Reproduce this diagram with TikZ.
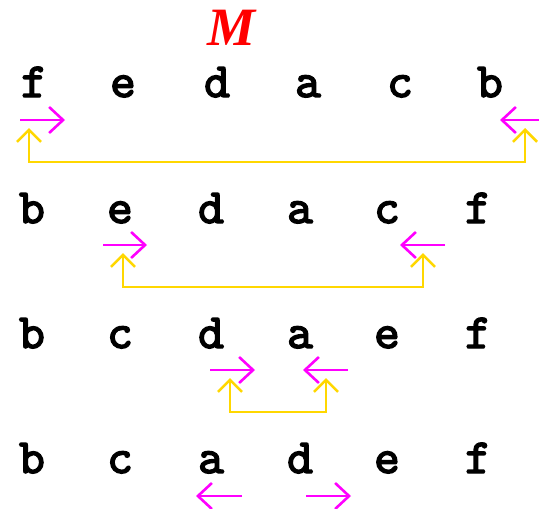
\documentclass[tikz,border=0pt]{standalone}
\usepackage{fontspec}
\usetikzlibrary{arrows.meta}
\definecolor{mag}{RGB}{255,0,255}
\definecolor{gold}{RGB}{255,215,0}
\newfontfamily\mfont{Liberation Serif}
\newfontfamily\courfont[FakeBold=3]{lmmono10-regular.otf}
\begin{document}
\begin{tikzpicture}[x=1pt,y=-1pt,
  letter/.style={anchor=base, inner sep=0pt, font=\fontsize{49}{49}\selectfont\courfont},
  ptr/.style={draw=mag, line width=2pt, -{Straight Barb[length=14pt,width=26pt,line width=2.6pt]}},
  swp/.style={draw=gold, line width=2pt, {Straight Barb[length=12pt,width=24pt,line width=2.6pt]}-{Straight Barb[length=12pt,width=24pt,line width=2.6pt]}},
  mlabel/.style={anchor=base, inner sep=0pt, text=red, font=\fontsize{54}{54}\selectfont\mfont\bfseries\itshape}]
\useasboundingbox[fill=white] (0,0) rectangle (539,509);
% title
\node[mlabel] (M) at (232,45) {M};
% row 1
\node[letter] (r1c1) at (34,97) {f};
\node[letter] (r1c2) at (123,97) {e};
\node[letter] (r1c3) at (217,97) {d};
\node[letter] (r1c4) at (308,97) {a};
\node[letter] (r1c5) at (400,97) {c};
\node[letter] (r1c6) at (490,97) {b};
% row 2
\node[letter] (r2c1) at (32,223) {b};
\node[letter] (r2c2) at (120,223) {e};
\node[letter] (r2c3) at (211,223) {d};
\node[letter] (r2c4) at (300,223) {a};
\node[letter] (r2c5) at (387,223) {c};
\node[letter] (r2c6) at (478,223) {f};
% row 3
\node[letter] (r3c1) at (32,348) {b};
\node[letter] (r3c2) at (120,348) {c};
\node[letter] (r3c3) at (211,348) {d};
\node[letter] (r3c4) at (300,348) {a};
\node[letter] (r3c5) at (387,348) {e};
\node[letter] (r3c6) at (478,348) {f};
% row 4
\node[letter] (r4c1) at (32,473) {b};
\node[letter] (r4c2) at (120,473) {c};
\node[letter] (r4c3) at (211,473) {a};
\node[letter] (r4c4) at (300,473) {d};
\node[letter] (r4c5) at (387,473) {e};
\node[letter] (r4c6) at (478,473) {f};
% pointer coordinates
\coordinate (p1a) at (20,120);  \coordinate (p1b) at (65,120);
\coordinate (q1a) at (539,120); \coordinate (q1b) at (500,120);
\coordinate (p2a) at (103,245); \coordinate (p2b) at (147,245);
\coordinate (q2a) at (445,245); \coordinate (q2b) at (400,245);
\coordinate (p3a) at (210,370); \coordinate (p3b) at (255,370);
\coordinate (q3a) at (348,370); \coordinate (q3b) at (303,370);
\coordinate (p4a) at (242,496); \coordinate (p4b) at (196,496);
\coordinate (q4a) at (306,496); \coordinate (q4b) at (351,496);
\draw[ptr] (p1a) -- (p1b);
\draw[ptr] (q1a) -- (q1b);
\draw[ptr] (p2a) -- (p2b);
\draw[ptr] (q2a) -- (q2b);
\draw[ptr] (p3a) -- (p3b);
\draw[ptr] (q3a) -- (q3b);
\draw[ptr] (p4a) -- (p4b);
\draw[ptr] (q4a) -- (q4b);
% swap connectors
\coordinate (s1a) at (29,128);  \coordinate (s1b) at (525,128);
\coordinate (s2a) at (123,253); \coordinate (s2b) at (423,253);
\coordinate (s3a) at (230,378); \coordinate (s3b) at (326,378);
\draw[swp] (s1a) -- ++(0,34) -| (s1b);
\draw[swp] (s2a) -- ++(0,34) -| (s2b);
\draw[swp] (s3a) -- ++(0,34) -| (s3b);
\end{tikzpicture}
\end{document}
